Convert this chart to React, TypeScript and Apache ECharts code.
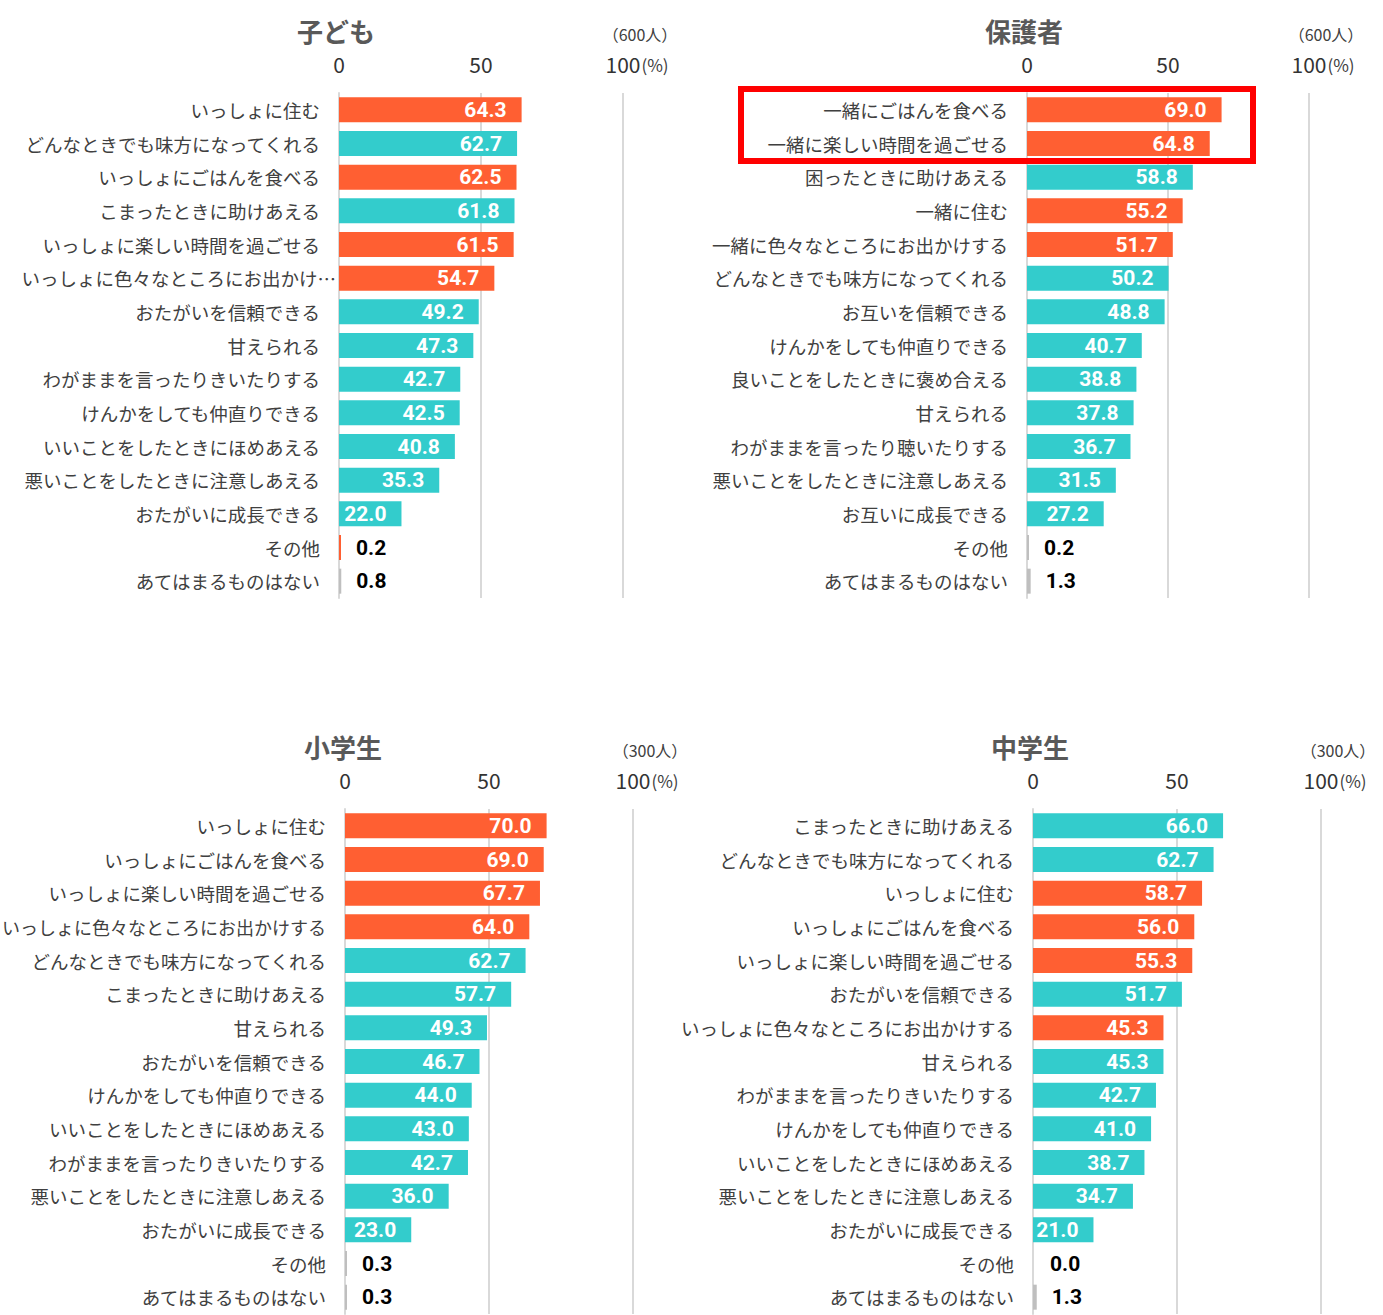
import React, { useEffect, useRef } from "react";
import * as echarts from "echarts";

// ---- Data ----
const kidsCategories = [
  "いっしょに住む",
  "どんなときでも味方になってくれる",
  "いっしょにごはんを食べる",
  "こまったときに助けあえる",
  "いっしょに楽しい時間を過ごせる",
  "いっしょに色々なところにお出かけ…",
  "おたがいを信頼できる",
  "甘えられる",
  "わがままを言ったりきいたりする",
  "けんかをしても仲直りできる",
  "いいことをしたときにほめあえる",
  "悪いことをしたときに注意しあえる",
  "おたがいに成長できる",
  "その他",
  "あてはまるものはない",
];
const kidsValues = [64.3, 62.7, 62.5, 61.8, 61.5, 54.7, 49.2, 47.3, 42.7, 42.5, 40.8, 35.3, 22.0, 0.2, 0.8];
const kidsKinds = ["o", "t", "o", "t", "o", "o", "t", "t", "t", "t", "t", "t", "t", "o", "g"];

const parentCategories = [
  "一緒にごはんを食べる",
  "一緒に楽しい時間を過ごせる",
  "困ったときに助けあえる",
  "一緒に住む",
  "一緒に色々なところにお出かけする",
  "どんなときでも味方になってくれる",
  "お互いを信頼できる",
  "けんかをしても仲直りできる",
  "良いことをしたときに褒め合える",
  "甘えられる",
  "わがままを言ったり聴いたりする",
  "悪いことをしたときに注意しあえる",
  "お互いに成長できる",
  "その他",
  "あてはまるものはない",
];
const parentValues = [69.0, 64.8, 58.8, 55.2, 51.7, 50.2, 48.8, 40.7, 38.8, 37.8, 36.7, 31.5, 27.2, 0.2, 1.3];
const parentKinds = ["o", "o", "t", "o", "o", "t", "t", "t", "t", "t", "t", "t", "t", "g", "g"];

const elemCategories = [
  "いっしょに住む",
  "いっしょにごはんを食べる",
  "いっしょに楽しい時間を過ごせる",
  "いっしょに色々なところにお出かけする",
  "どんなときでも味方になってくれる",
  "こまったときに助けあえる",
  "甘えられる",
  "おたがいを信頼できる",
  "けんかをしても仲直りできる",
  "いいことをしたときにほめあえる",
  "わがままを言ったりきいたりする",
  "悪いことをしたときに注意しあえる",
  "おたがいに成長できる",
  "その他",
  "あてはまるものはない",
];
const elemValues = [70.0, 69.0, 67.7, 64.0, 62.7, 57.7, 49.3, 46.7, 44.0, 43.0, 42.7, 36.0, 23.0, 0.3, 0.3];
const elemKinds = ["o", "o", "o", "o", "t", "t", "t", "t", "t", "t", "t", "t", "t", "g", "g"];

const juniorCategories = [
  "こまったときに助けあえる",
  "どんなときでも味方になってくれる",
  "いっしょに住む",
  "いっしょにごはんを食べる",
  "いっしょに楽しい時間を過ごせる",
  "おたがいを信頼できる",
  "いっしょに色々なところにお出かけする",
  "甘えられる",
  "わがままを言ったりきいたりする",
  "けんかをしても仲直りできる",
  "いいことをしたときにほめあえる",
  "悪いことをしたときに注意しあえる",
  "おたがいに成長できる",
  "その他",
  "あてはまるものはない",
];
const juniorValues = [66.0, 62.7, 58.7, 56.0, 55.3, 51.7, 45.3, 45.3, 42.7, 41.0, 38.7, 34.7, 21.0, 0.0, 1.3];
const juniorKinds = ["t", "t", "o", "o", "o", "t", "o", "t", "t", "t", "t", "t", "t", "g", "g"];

const panelTitles = ["子ども", "保護者", "小学生", "中学生"];
const sampleSizes = ["（600人）", "（600人）", "（300人）", "（300人）"];
const xTicks = [0, 50, 100];

// ---- Styling / layout ----
const COLORS: Record<string, string> = { o: "#FF5F32", t: "#33CCCC", g: "#BFBFBF" };
const CJK = '"Noto Sans CJK JP", "Noto Sans", sans-serif';
const NUM = 'Roboto, "Noto Sans", sans-serif';
const LABEL_SIZE = 18.5;
const LABEL_MARGIN = 19;

const panels = [
  { cats: kidsCategories, vals: kidsValues, kinds: kidsKinds, grid: { left: 339, top: 93, width: 284, height: 505 } },
  { cats: parentCategories, vals: parentValues, kinds: parentKinds, grid: { left: 1027, top: 93, width: 282, height: 505 } },
  { cats: elemCategories, vals: elemValues, kinds: elemKinds, grid: { left: 345, top: 809, width: 288, height: 505 } },
  { cats: juniorCategories, vals: juniorValues, kinds: juniorKinds, grid: { left: 1033, top: 809, width: 288, height: 505 } },
];

const fmt = (d: any) => Number(d.value).toFixed(1);

function categoryItem(c: string, available: number) {
  if (c.endsWith("…")) return { value: c, textStyle: { padding: [0, -16, 0, 0] } };
  const est = c.length * LABEL_SIZE;
  if (est > available - 2) {
    return { value: c, textStyle: { fontSize: Math.floor(((available - 2) / c.length) * 10) / 10 } };
  }
  return c;
}

function buildOption() {
  const grids = panels.map((p) => ({ ...p.grid, containLabel: false, outerBoundsMode: "none" }));
  const xAxes = panels.map((p, i) => ({
    type: "value",
    gridIndex: i,
    position: "top",
    min: xTicks[0],
    max: xTicks[xTicks.length - 1],
    interval: xTicks[1] - xTicks[0],
    axisLine: { show: false },
    axisTick: { show: false },
    axisLabel: { show: true, fontSize: 21, color: "#333333", fontFamily: CJK, margin: 19 },
    splitLine: { show: true, lineStyle: { color: "#D9D9D9", width: 2 } },
  }));
  const yAxes = panels.map((p, i) => ({
    type: "category",
    gridIndex: i,
    inverse: true,
    data: p.cats.map((c) => categoryItem(c, p.grid.left - LABEL_MARGIN)),
    axisLine: { show: true, lineStyle: { color: "#D9D9D9", width: 2 } },
    axisTick: { show: false },
    axisLabel: { fontSize: LABEL_SIZE, color: "#404040", fontFamily: CJK, margin: LABEL_MARGIN, interval: 0, hideOverlap: false },
  }));
  const series = panels.map((p, i) => ({
    type: "bar",
    xAxisIndex: i,
    yAxisIndex: i,
    barWidth: 25,
    barMinHeight: 2,
    data: p.vals.map((v, j) => ({
      value: v,
      itemStyle: { color: v === 0 ? "rgba(0,0,0,0)" : COLORS[p.kinds[j]] },
      label:
        v >= 5
          ? { show: true, position: "insideRight", distance: 15, color: "#FFFFFF", fontSize: 21, fontWeight: "bold", fontFamily: NUM, formatter: fmt }
          : { show: true, position: "right", distance: 15, color: "#000000", fontSize: 21, fontWeight: "bold", fontFamily: NUM, formatter: fmt },
    })),
  }));

  const titlePos = [
    { x: 336, y: 30 },
    { x: 1024, y: 30 },
    { x: 343, y: 746 },
    { x: 1030, y: 746 },
  ];
  const graphic: any[] = [];
  panels.forEach((p, i) => {
    const g = p.grid;
    const right = g.left + g.width;
    graphic.push({
      type: "text",
      x: titlePos[i].x,
      y: titlePos[i].y,
      style: { text: panelTitles[i], align: "center", verticalAlign: "middle", textAlign: "center", textVerticalAlign: "middle", fontSize: 26, fontWeight: "bold", fontFamily: CJK, fill: "#595959" },
    });
    graphic.push({
      type: "text",
      x: right + 17,
      y: titlePos[i].y + 4,
      style: { text: sampleSizes[i], align: "center", verticalAlign: "middle", textAlign: "center", textVerticalAlign: "middle", fontSize: 16, fontFamily: CJK, fill: "#404040" },
    });
    graphic.push({
      type: "text",
      x: right + 32,
      y: g.top - 29,
      style: { text: "(%)", align: "center", verticalAlign: "middle", textAlign: "center", textVerticalAlign: "middle", fontSize: 17, fontFamily: CJK, fill: "#404040" },
    });
  });
  graphic.push({
    type: "rect",
    shape: { x: 741, y: 89, width: 512, height: 72 },
    style: { fill: "none", stroke: "#FF0000", lineWidth: 6 },
    z: 100,
  });

  return {
    animation: false,
    backgroundColor: "#FFFFFF",
    grid: grids,
    xAxis: xAxes,
    yAxis: yAxes,
    series,
    graphic,
  };
}

export default function App() {
  const ref = useRef<HTMLDivElement>(null);
  useEffect(() => {
    if (!ref.current) return;
    const chart = echarts.init(ref.current, undefined, { renderer: "svg" });
    chart.setOption(buildOption() as any);
    return () => chart.dispose();
  }, []);
  return (
    <div
      ref={ref}
      style={{ position: "absolute", left: 0, top: 0, width: 1383, height: 1315, background: "#fff" }}
    />
  );
}
